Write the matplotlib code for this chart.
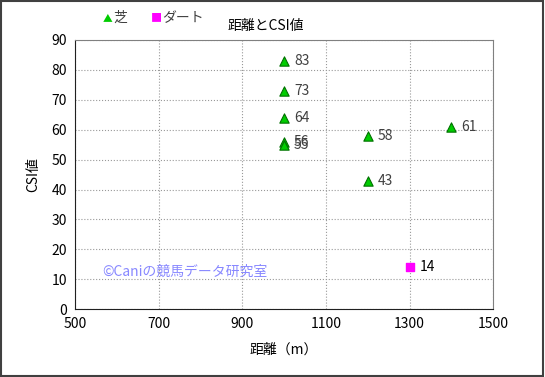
import matplotlib
matplotlib.use("Agg")
import matplotlib.pyplot as plt
from matplotlib.patches import Rectangle

plt.rcParams['font.family'] = ['Noto Sans CJK JP', 'DejaVu Sans']

# turf (芝) data
turf_dist = [1000, 1000, 1000, 1000, 1000, 1200, 1200, 1400]
turf_csi = [83, 73, 64, 56, 55, 58, 43, 61]
# dirt (ダート) data
dirt_dist = [1300]
dirt_csi = [14]

x_ticks = [500, 700, 900, 1100, 1300, 1500]
y_ticks = [0, 10, 20, 30, 40, 50, 60, 70, 80, 90]

fig = plt.figure(figsize=(5.45, 3.77), dpi=100)
fig.patches.append(Rectangle((0.002, 0.003), 0.995, 0.994, transform=fig.transFigure,
                             fill=False, edgecolor='#404040', linewidth=1.5))
ax = fig.add_axes([0.138, 0.18, 0.767, 0.714])

ax.scatter(turf_dist, turf_csi, marker='^', s=45, color='#00cc00',
           edgecolor='#007000', linewidth=0.8, zorder=3)
ax.scatter(dirt_dist, dirt_csi, marker='s', s=40, color='#ff00ff',
           edgecolor='#ff00ff', zorder=3)

for x, y in zip(turf_dist, turf_csi):
    ax.annotate(str(y), (x, y), xytext=(7, 0), textcoords='offset points',
                va='center', ha='left', fontsize=10, color='#404040')
for x, y in zip(dirt_dist, dirt_csi):
    ax.annotate(str(y), (x, y), xytext=(7, 0), textcoords='offset points',
                va='center', ha='left', fontsize=10, color='black')

ax.set_xlim(500, 1500)
ax.set_ylim(0, 90)
ax.set_xticks(x_ticks)
ax.set_yticks(y_ticks)
ax.tick_params(length=0, labelsize=10, pad=6)
ax.grid(True, linestyle=':', color='#999999', linewidth=0.8)
ax.set_axisbelow(True)
for s in ['top', 'right']:
    ax.spines[s].set_color('#808080')
for s in ['left', 'bottom']:
    ax.spines[s].set_color('#202020')

ax.set_xlabel('距離（m）', fontsize=10, labelpad=8)
ax.set_ylabel('CSI値', fontsize=10, labelpad=8)

fig.text(0.487, 0.93, '距離とCSI値', ha='center', va='center', fontsize=10)
fig.text(0.188, 0.953, '▲', color='#00cc00', fontsize=7, ha='left', va='center')
fig.text(0.207, 0.953, '芝', color='#404040', fontsize=10, ha='left', va='center')
fig.text(0.276, 0.953, '■', color='#ff00ff', fontsize=8, ha='left', va='center')
fig.text(0.298, 0.953, 'ダート', color='#404040', fontsize=10, ha='left', va='center')

ax.text(0.065, 0.14, '©Caniの競馬データ研究室', transform=ax.transAxes,
        color='#8888ff', fontsize=10, ha='left', va='center')

fig.savefig('out.png', dpi=100)
